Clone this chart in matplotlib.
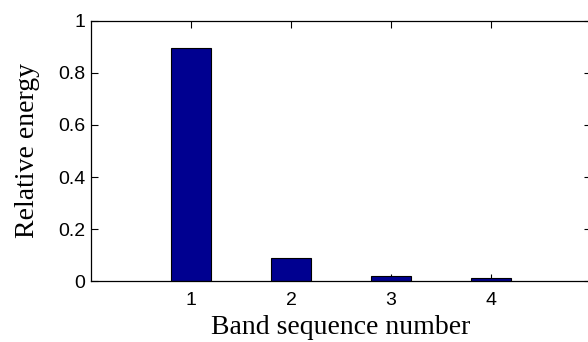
import matplotlib.pyplot as plt

bands = [1, 2, 3, 4]
energy = [0.895, 0.087, 0.019, 0.013]
xtick_labels = ["1", "2", "3", "4"]
ytick_values = [0, 0.2, 0.4, 0.6, 0.8, 1]
ytick_labels = ["0", "0.2", "0.4", "0.6", "0.8", "1"]

fig = plt.figure(figsize=(5.88, 3.42), dpi=100)
ax = fig.add_axes([0.155, 0.178, 0.85, 0.761])

ax.bar(bands, energy, width=0.4, color="#000090", edgecolor="black", linewidth=0.8, zorder=3)

ax.set_xlim(0, 5)
ax.set_ylim(0, 1)
ax.set_xticks(bands)
ax.set_xticklabels(xtick_labels, fontfamily="Liberation Sans", fontsize=14)
ax.set_yticks(ytick_values)
ax.set_yticklabels(ytick_labels, fontfamily="Liberation Sans", fontsize=14)
ax.tick_params(direction="in", length=5, width=0.8, top=True, right=True)
ax.tick_params(axis="x", pad=8)
ax.tick_params(axis="y", pad=4)

for s in ax.spines.values():
    s.set_linewidth(0.9)
    s.set_zorder(4)

ax.set_xlabel("Band sequence number", fontfamily="Liberation Serif", fontsize=20, labelpad=4)
ax.set_ylabel("Relative energy", fontfamily="Liberation Serif", fontsize=20, labelpad=13)

fig.savefig("out.png", dpi=100)
